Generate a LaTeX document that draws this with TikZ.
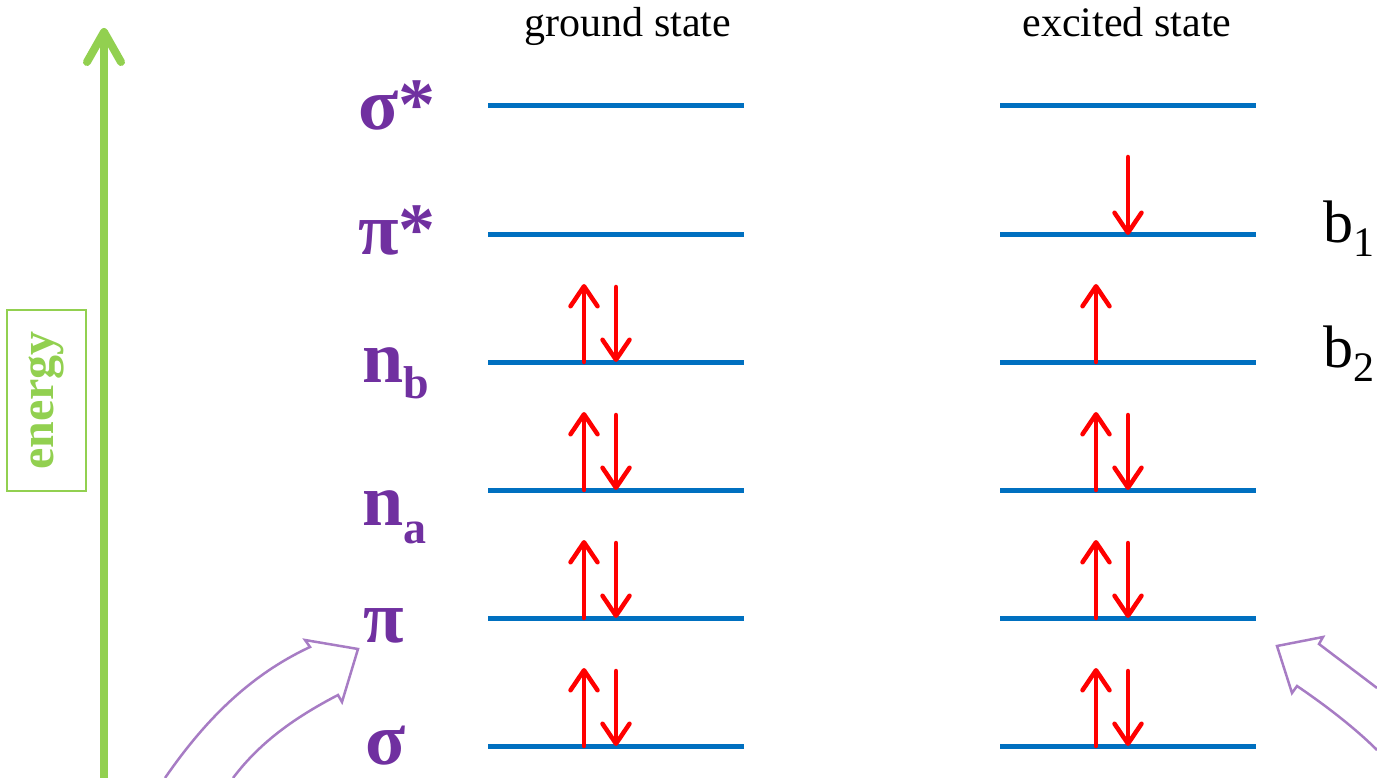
\documentclass[tikz,border=0pt]{standalone}
\usepackage{fontspec}
\setmainfont{Liberation Serif}
\usetikzlibrary{arrows.meta}
\definecolor{lvlblue}{HTML}{0070C0}
\definecolor{labpurple}{HTML}{7030A0}
\definecolor{engreen}{HTML}{92D050}
\definecolor{blockpurple}{HTML}{A77CC4}
\definecolor{spinred}{HTML}{FF0000}
\tikzset{
  level/.style={draw=lvlblue, line width=5pt},
  spin/.style={draw=spinred, line width=4.5pt, line cap=round,
    -{Straight Barb[length=20pt,width=27pt,line cap=round,line join=round]}},
  orblabel/.style={text=labpurple, anchor=base west, inner sep=0pt,
    font=\fontsize{74}{80}\selectfont\bfseries},
  sublabel/.style={text=labpurple, anchor=base west, inner sep=0pt,
    font=\fontsize{46}{50}\selectfont\bfseries},
  heading/.style={anchor=base, inner sep=0pt, font=\fontsize{42}{46}\selectfont},
  blabel/.style={anchor=base west, inner sep=0pt, font=\fontsize{60}{66}\selectfont},
  bsub/.style={anchor=base west, inner sep=0pt, font=\fontsize{42}{46}\selectfont},
  blockarrow/.style={draw=blockpurple, line width=2.5pt, line join=miter},
}
\begin{document}
\begin{tikzpicture}[x=1pt,y=-1pt]
\useasboundingbox (0,0) rectangle (1377,778);

% energy axis
\coordinate (ebot) at (104,778);
\coordinate (etop) at (104,28);
\draw[draw=engreen, line width=8pt,
  -{Straight Barb[length=30pt,width=34pt,line cap=round,line join=round]}] (ebot) -- (etop);
\node[draw=engreen, line width=1.5pt, rotate=90, minimum width=181pt, minimum height=79pt,
  inner sep=0pt, text=engreen, font=\fontsize{48}{52}\selectfont\bfseries] (energy) at (46.5,400.5) {energy};

% headings
\node[heading] (gs) at (628,37) {ground state};
\node[heading] (es) at (1127,37) {excited state};

% levels
\foreach \n/\y in {1/106,2/235,3/362,4/490,5/618,6/746}{
  \coordinate (gL\n) at (488,\y);
  \coordinate (gR\n) at (744,\y);
  \coordinate (xL\n) at (1000,\y);
  \coordinate (xR\n) at (1256,\y);
  \draw[level] (gL\n) -- (gR\n);
  \draw[level] (xL\n) -- (xR\n);
}

% orbital labels
\node[orblabel] (ss) at (358,130) {σ*};
\node[orblabel] (ps) at (358,255) {π*};
\node[orblabel] (nb) at (362,382) {n};
\node[sublabel] (nbs) at (nb.base east) [yshift=-16pt] {b};
\node[orblabel] (na) at (362,525) {n};
\node[sublabel] (nas) at (na.base east) [yshift=-18pt] {a};
\node[orblabel] (pi) at (363,642) {π};
\node[orblabel] (sg) at (365,764) {σ};

% b labels
\node[blabel] (b1) at (1323,243) {b};
\node[bsub] (b1s) at (b1.base east) [yshift=-14pt] {1};
\node[blabel] (b2) at (1323,367) {b};
\node[bsub] (b2s) at (b2.base east) [yshift=-14pt] {2};

% ground-state spins
\foreach \n/\y in {3/362,4/490,5/618,6/746}{
  \coordinate (gu\n a) at (584,\y);
  \coordinate (gu\n b) at (584,\y-78);
  \coordinate (gd\n a) at (616,\y-75);
  \coordinate (gd\n b) at (616,\y);
  \draw[spin] (gu\n a) -- (gu\n b);
  \draw[spin] (gd\n a) -- (gd\n b);
}
% excited-state spins
\coordinate (xd2a) at (1128,157);
\coordinate (xd2b) at (1128,235);
\draw[spin] (xd2a) -- (xd2b);
\coordinate (xu3a) at (1096,362);
\coordinate (xu3b) at (1096,284);
\draw[spin] (xu3a) -- (xu3b);
\foreach \n/\y in {4/490,5/618,6/746}{
  \coordinate (xu\n a) at (1096,\y);
  \coordinate (xu\n b) at (1096,\y-78);
  \coordinate (xd\n a) at (1128,\y-75);
  \coordinate (xd\n b) at (1128,\y);
  \draw[spin] (xu\n a) -- (xu\n b);
  \draw[spin] (xd\n a) -- (xd\n b);
}

% block arrows
\draw[blockarrow] (165,778) .. controls (205,720) and (250,675) .. (310,647)
  -- (305,640) -- (358,649) -- (342,702) -- (338,695)
  .. controls (290,720) and (258,745) .. (233,778);
\draw[blockarrow] (1377,688) .. controls (1360,675) and (1340,660) .. (1319,644)
  -- (1323,637) -- (1277,646) -- (1292,693) -- (1297,686)
  .. controls (1325,705) and (1355,728) .. (1377,750);
\end{tikzpicture}
\end{document}
